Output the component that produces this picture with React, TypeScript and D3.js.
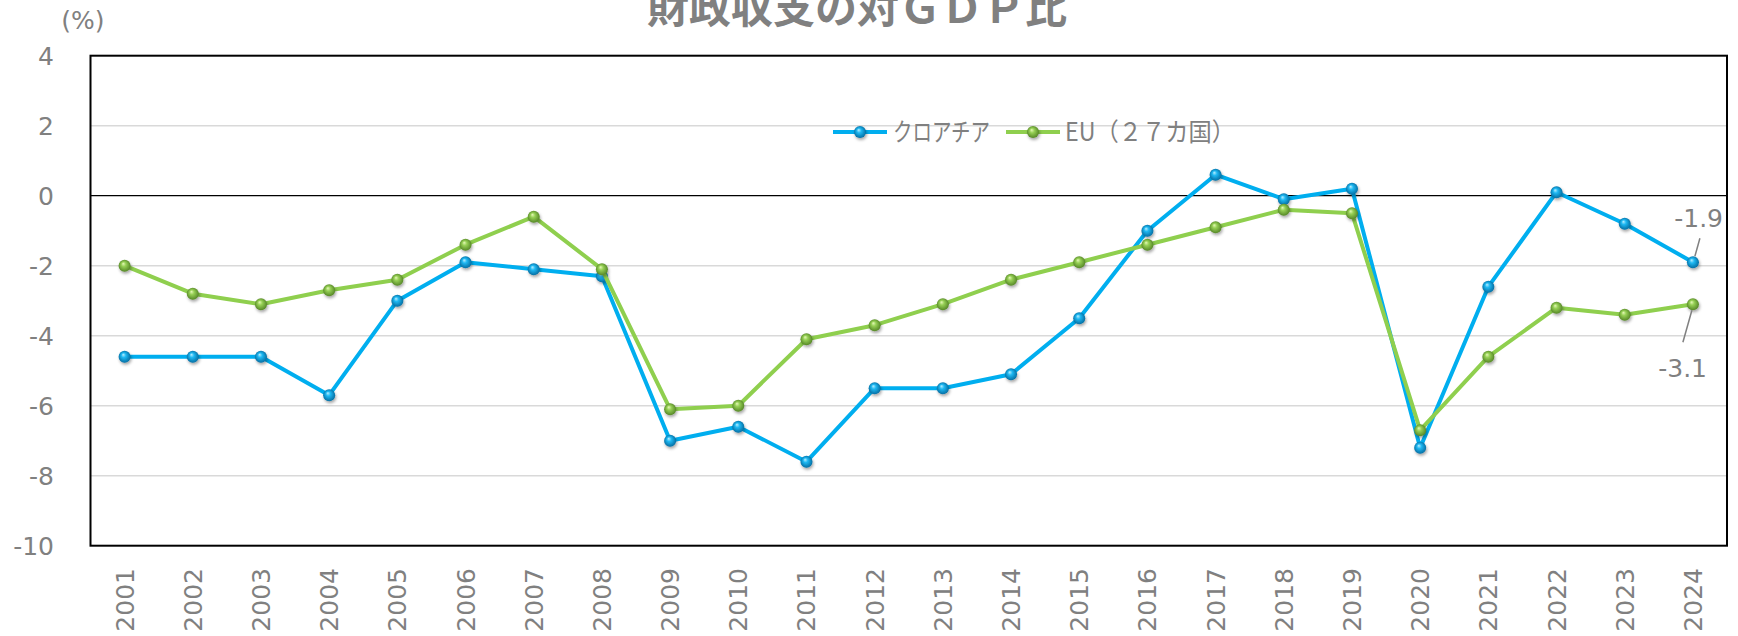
import React from "react";
import * as d3 from "d3";

const years = ["2001","2002","2003","2004","2005","2006","2007","2008","2009","2010","2011","2012","2013","2014","2015","2016","2017","2018","2019","2020","2021","2022","2023","2024"];
const croatia = [-4.6,-4.6,-4.6,-5.7,-3.0,-1.9,-2.1,-2.3,-7.0,-6.6,-7.6,-5.5,-5.5,-5.1,-3.5,-1.0,0.6,-0.1,0.2,-7.2,-2.6,0.1,-0.8,-1.9];
const eu27 = [-2.0,-2.8,-3.1,-2.7,-2.4,-1.4,-0.6,-2.1,-6.1,-6.0,-4.1,-3.7,-3.1,-2.4,-1.9,-1.4,-0.9,-0.4,-0.5,-6.7,-4.6,-3.2,-3.4,-3.1];
const yTicks = [4,2,0,-2,-4,-6,-8,-10];
const seriesNames = ["クロアチア","EU（２７カ国）"];
const title = "財政収支の対ＧＤＰ比";
const unitLabel = "(%)";

const W = 1738, H = 636;
const L = 90.5, R = 1727, T = 55.7, B = 545.7;
const gray = "#808080";
const blue = "#00AEEF";
const green = "#8FCF4E";
const tickFont = "'DejaVu Sans', Verdana, sans-serif";
const cjkFont = "'Noto Sans CJK JP', sans-serif";

export default function App() {
  const x = d3.scaleBand<string>().domain(years).range([L, R]);
  const y = d3.scaleLinear().domain([-10, 4]).range([B, T]);
  const cx = (yr: string) => (x(yr) as number) + x.bandwidth() / 2;
  const line = d3.line<number>().x((_, i) => cx(years[i])).y((v) => y(v));

  const series = [
    { name: seriesNames[0], data: croatia, color: blue, grad: "gBlue" },
    { name: seriesNames[1], data: eu27, color: green, grad: "gGreen" },
  ];

  const lastX = cx(years[years.length - 1]);
  const lastC = croatia[croatia.length - 1];
  const lastE = eu27[eu27.length - 1];

  return (
    <svg width={W} height={H} style={{ position: "fixed", left: 0, top: 0, background: "#fff" }}>
      <defs>
        <radialGradient id="gBlue" cx="50%" cy="50%" r="55%" fx="38%" fy="32%">
          <stop offset="0%" stopColor="#B8EEFF" />
          <stop offset="35%" stopColor="#1FB8F2" />
          <stop offset="100%" stopColor="#00669A" />
        </radialGradient>
        <radialGradient id="gGreen" cx="50%" cy="50%" r="55%" fx="38%" fy="32%">
          <stop offset="0%" stopColor="#E6F8B8" />
          <stop offset="35%" stopColor="#96D055" />
          <stop offset="100%" stopColor="#4F7F22" />
        </radialGradient>
        <filter id="shadow" x="-50%" y="-50%" width="200%" height="200%">
          <feDropShadow dx="1" dy="2" stdDeviation="1.5" floodColor="#000" floodOpacity="0.35" />
        </filter>
      </defs>

      {/* title */}
      <text x={857} y={23} textAnchor="middle" fontFamily={cjkFont} fontWeight="bold" fontSize={42} fill={gray}>{title}</text>
      <text x={83} y={29} textAnchor="middle" fontFamily={tickFont} fontSize={25} fill={gray}>{unitLabel}</text>

      {/* gridlines */}
      {yTicks.filter((t) => t !== 0 && t !== 4 && t !== -10).map((t) => (
        <line key={t} x1={L} x2={R} y1={y(t)} y2={y(t)} stroke="#D9D9D9" strokeWidth={1.5} />
      ))}
      <line x1={L} x2={R} y1={y(0)} y2={y(0)} stroke="#000" strokeWidth={1.2} />
      <rect x={L} y={T} width={R - L} height={B - T} fill="none" stroke="#000" strokeWidth={2} />

      {/* y ticks */}
      {yTicks.map((t) => (
        <text key={t} x={54} y={y(t)} dy="0.36em" textAnchor="end" fontFamily={tickFont} fontSize={25} fill={gray}>{t}</text>
      ))}

      {/* x ticks */}
      {years.map((yr) => (
        <text key={yr} transform={`translate(${cx(yr)},568) rotate(-90)`} textAnchor="end" dy="0.36em" fontFamily={tickFont} fontSize={25} fill={gray}>{yr}</text>
      ))}

      {/* legend */}
      <g>
        <line x1={833} x2={887} y1={132} y2={132} stroke={blue} strokeWidth={4} />
        <circle cx={860} cy={132} r={6} fill="url(#gBlue)" filter="url(#shadow)" />
        <text x={893} y={132} dy="0.36em" fontFamily={cjkFont} fontSize={25} fill={gray} textLength={97} lengthAdjust="spacingAndGlyphs">{seriesNames[0]}</text>
        <line x1={1006} x2={1060} y1={132} y2={132} stroke={green} strokeWidth={4} />
        <circle cx={1033} cy={132} r={6} fill="url(#gGreen)" filter="url(#shadow)" />
        <text x={1065} y={132} dy="0.36em" fontFamily={cjkFont} fontSize={25} fill={gray} textLength={170} lengthAdjust="spacingAndGlyphs">{seriesNames[1]}</text>
      </g>

      {/* series */}
      {series.map((s) => (
        <g key={s.name}>
          <path d={line(s.data) as string} fill="none" stroke={s.color} strokeWidth={4} strokeLinejoin="round" />
          {s.data.map((v, i) => (
            <circle key={i} cx={cx(years[i])} cy={y(v)} r={6} fill={`url(#${s.grad})`} filter="url(#shadow)" />
          ))}
        </g>
      ))}

      {/* data labels */}
      <line x1={lastX + 7} y1={y(lastC) - 24} x2={lastX + 2} y2={y(lastC) - 6} stroke={gray} strokeWidth={1.5} />
      <text x={1723} y={218} dy="0.36em" textAnchor="end" fontFamily={tickFont} fontSize={25} fill={gray}>{lastC}</text>
      <line x1={lastX - 10} y1={y(lastE) + 38} x2={lastX - 1} y2={y(lastE) + 6} stroke={gray} strokeWidth={1.5} />
      <text x={1707} y={368} dy="0.36em" textAnchor="end" fontFamily={tickFont} fontSize={25} fill={gray}>{lastE}</text>
    </svg>
  );
}
